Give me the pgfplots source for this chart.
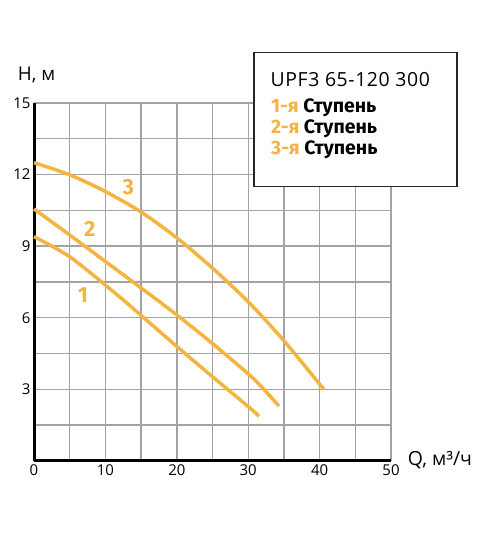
\documentclass[border=0pt]{standalone}
\usepackage{fontspec}
\setmainfont{Open Sans}
\newfontfamily\firasans{Fira Sans}
\usepackage{pgfplots}
\pgfplotsset{compat=1.18}
\definecolor{curve}{HTML}{F5B441}
\definecolor{gridc}{HTML}{A3A3A3}
\begin{document}
\begin{tikzpicture}[x=1bp,y=1bp]
\useasboundingbox (0,0) rectangle (500,538);
\begin{axis}[
  at={(34bp,77bp)}, anchor=south west,
  scale only axis, width=357bp, height=358bp,
  xmin=0, xmax=50, ymin=0, ymax=15,
  axis x line=bottom, axis y line=left,
  axis line style={line width=3bp,-},
  xtick={0,10,...,50}, minor xtick={5,15,...,45},
  ytick={3,6,...,15}, minor ytick={1.5,4.5,...,13.5},
  grid=both,
  major grid style={gridc, line width=1.4bp},
  minor grid style={gridc, line width=1.4bp},
  major tick length=0pt, minor tick length=0pt,
  tick label style={font=\fontsize{15}{15}\selectfont},
  /pgf/number format/assume math mode=true,
  clip=false,
]
% 1-я ступень
\addplot[curve, line width=3.5bp, smooth] coordinates {
(0,9.40) (2.5,9.00) (5,8.56) (7.5,7.98) (10,7.37) (12.5,6.75) (15,6.10)
(20,4.80) (25,3.53) (30,2.28) (31.5,1.88)};
% 2-я ступень
\addplot[curve, line width=3.5bp, smooth] coordinates {
(0,10.56) (5,9.47) (10,8.36) (15,7.25) (20,6.12) (25,4.92) (30,3.65) (32,3.07) (34.3,2.30)};
% 3-я ступень
\addplot[curve, line width=3.5bp, smooth] coordinates {
(0,12.5) (5,11.99) (10,11.29) (15,10.43) (20,9.35) (25,8.08) (30,6.67)
(35,5.04) (40.6,3.0)};
\node[text=curve, font=\firasans\bfseries\fontsize{22}{22}\selectfont] at (axis cs:6.86,6.95) {1};
\node[text=curve, font=\firasans\bfseries\fontsize{22}{22}\selectfont] at (axis cs:7.8,9.72) {2};
\node[text=curve, font=\firasans\bfseries\fontsize{22}{22}\selectfont] at (axis cs:13.2,11.48) {3};
\end{axis}
% axis titles
\node[font=\fontsize{19}{19}\selectfont] at (36.5,463) {H, м};
\node[font=\fontsize{19.5}{19.5}\selectfont] at (440,78) {Q, м³/ч};
% legend box
\draw[line width=1.5bp, draw=black!85, fill=white] (254,351.3) rectangle (457,485.3);
\node[anchor=base west, inner sep=0, font=\addfontfeatures{LetterSpace=3}\fontsize{19.5}{19.5}\selectfont] at (270.5,451) {UPF3 65-120 300};
\node[anchor=base west, inner sep=0, font=\firasans\bfseries\fontsize{19.5}{19.5}\selectfont] at (271,425.3) {{\color{curve}1-я} Ступень};
\node[anchor=base west, inner sep=0, font=\firasans\bfseries\fontsize{19.5}{19.5}\selectfont] at (271,404) {{\color{curve}2-я} Ступень};
\node[anchor=base west, inner sep=0, font=\firasans\bfseries\fontsize{19.5}{19.5}\selectfont] at (271,383) {{\color{curve}3-я} Ступень};
\end{tikzpicture}
\end{document}
